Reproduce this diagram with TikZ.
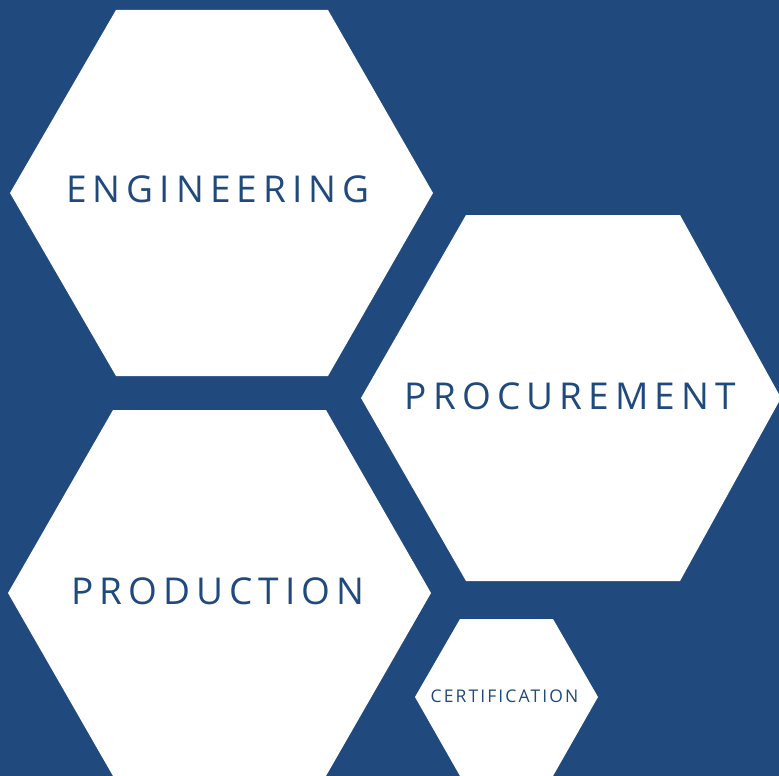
\documentclass[tikz,border=0pt]{standalone}
\usepackage{fontspec}
\setmainfont{Open Sans}
\newfontfamily\lbl[LetterSpace=16.5]{Open Sans}
\newfontfamily\lblsmall[LetterSpace=12]{Open Sans}
\definecolor{bg}{HTML}{204A7D}
\begin{document}
\begin{tikzpicture}[x=1pt,y=-1pt,
  hexa/.style={fill=white},
  lab/.style={text=bg, font=\lbl\fontsize{37}{40}\selectfont, inner sep=0pt, anchor=center},
  smalllab/.style={text=bg, font=\lblsmall\fontsize{17.5}{20}\selectfont, inner sep=0pt, anchor=center}]
\fill[bg] (0,0) rectangle (779,776);
\useasboundingbox (0,0) rectangle (779,776);
\fill[hexa] (10,193) -- (116,10) -- (328,10) -- (433,193) -- (328,376) -- (116,376) -- cycle;
\fill[hexa] (361,398) -- (466,215) -- (680,215) -- (781,398) -- (680,581) -- (466,581) -- cycle;
\fill[hexa] (8,593) -- (113,410) -- (326,410) -- (431,593) -- (326,776) -- (113,776) -- cycle;
\fill[hexa] (415,697) -- (460,619) -- (553,619) -- (598,697) -- (553,776) -- (460,776) -- cycle;
\node[lab] (eng) at (218,189) {ENGINEERING};
\node[lab] (proc) at (570.5,396) {PROCUREMENT};
\node[lab] (prod) at (218,591) {PRODUCTION};
\node[smalllab] (cert) at (504.5,696) {CERTIFICATION};
\end{tikzpicture}
\end{document}
